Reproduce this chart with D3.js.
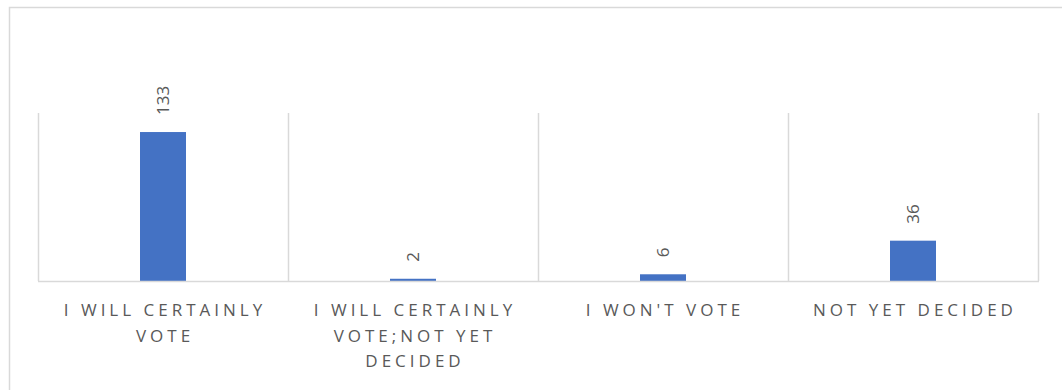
<!DOCTYPE html>
<html>
<head>
<meta charset="utf-8">
<script src="https://cdn.jsdelivr.net/npm/d3@7"></script>
<style>
  html, body { margin: 0; padding: 0; background: #fff; }
  svg { display: block; }
</style>
</head>
<body>
<div id="chart"></div>
<script>
// Survey answers and response counts
const categories = [
  "I WILL CERTAINLY VOTE",
  "I WILL CERTAINLY VOTE;NOT YET DECIDED",
  "I WON'T VOTE",
  "NOT YET DECIDED"
];
const counts = [133, 2, 6, 36];
const yDomain = [0, 150];

const W = 1062, H = 390;
const plot = { left: 38, right: 1038, top: 113, bottom: 281 };

const svg = d3.select("#chart").append("svg")
  .attr("width", W).attr("height", H);

// chart frame
svg.append("rect")
  .attr("x", 9.5).attr("y", 7.5)
  .attr("width", 1200).attr("height", 600)
  .attr("fill", "none").attr("stroke", "#d9d9d9").attr("stroke-width", 1.5);

const x = d3.scaleBand().domain(categories).range([plot.left, plot.right]).padding(0);
const y = d3.scaleLinear().domain(yDomain).range([plot.bottom, plot.top]);
const barW = x.bandwidth() * 0.184;

// vertical separators between categories
const seps = categories.map(c => x(c)).concat([plot.right]);
svg.append("g").selectAll("line").data(seps).join("line")
  .attr("x1", d => Math.round(d) + 0.5).attr("x2", d => Math.round(d) + 0.5)
  .attr("y1", y(yDomain[1])).attr("y2", y(0))
  .attr("stroke", "#d9d9d9").attr("stroke-width", 1.5);

// bars
svg.append("g").selectAll("rect").data(counts).join("rect")
  .attr("x", (d, i) => x(categories[i]) + x.bandwidth() / 2 - barW / 2)
  .attr("width", barW)
  .attr("y", d => y(d))
  .attr("height", d => y(0) - y(d))
  .attr("fill", "#4472c4");

// baseline
svg.append("line")
  .attr("x1", plot.left).attr("x2", plot.right + 1)
  .attr("y1", y(0) + 0.5).attr("y2", y(0) + 0.5)
  .attr("stroke", "#d9d9d9").attr("stroke-width", 1.5);

// value labels, rotated
svg.append("g").selectAll("text").data(counts).join("text")
  .attr("transform", (d, i) =>
    `translate(${x(categories[i]) + x.bandwidth() / 2},${y(d) - 17}) rotate(-90)`)
  .attr("dy", "0.36em")
  .attr("text-anchor", "start")
  .attr("font-family", "'Open Sans', sans-serif")
  .attr("font-size", 17)
  .attr("fill", "#595959")
  .text(d => d);

// category labels, wrapped to the band width
const axisG = svg.append("g");
categories.forEach(c => {
  const cx = x(c) + x.bandwidth() / 2 + 2;
  const t = axisG.append("text")
    .attr("x", cx)
    .attr("y", 316)
    .attr("text-anchor", "middle")
    .attr("font-family", "'Open Sans', sans-serif")
    .attr("font-size", 17)
    .attr("letter-spacing", "4px")
    .attr("fill", "#595959");
  const words = c.split(/\s+/);
  const maxW = 245;
  let lines = [], line = [];
  const probe = t.append("tspan");
  words.forEach(w => {
    const test = line.concat([w]).join(" ");
    probe.text(test);
    if (line.length && probe.node().getComputedTextLength() > maxW) {
      lines.push(line.join(" "));
      line = [w];
    } else {
      line.push(w);
    }
  });
  if (line.length) lines.push(line.join(" "));
  probe.remove();
  lines.forEach((l, i) => {
    t.append("tspan")
      .attr("x", cx)
      .attr("dy", i === 0 ? 0 : 25.5)
      .text(l);
  });
});
</script>
</body>
</html>
